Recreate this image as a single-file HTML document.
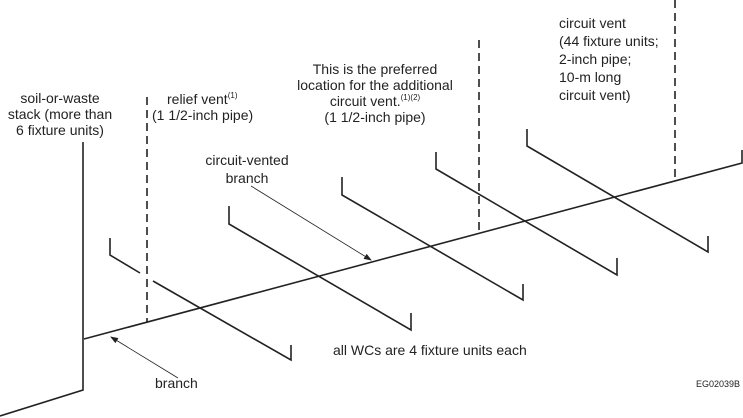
<!DOCTYPE html>
<html><head><meta charset="utf-8"><style>
body{margin:0;background:#fff}
svg{display:block}
text{font-family:"Liberation Sans",Arial,sans-serif;font-size:14px;fill:#222}
</style></head><body>
<svg width="743" height="418" viewBox="0 0 743 418">
<defs><marker id="a" markerWidth="8" markerHeight="6" refX="7" refY="3" orient="auto" markerUnits="userSpaceOnUse"><path d="M0,0 L8,3 L0,6 z" fill="#222"/></marker></defs>
<g stroke="#222" fill="none" stroke-width="1.6">
<polyline points="83,142 83,390 0,416"/>
<polyline points="84,339 742,163 742,150"/>
<polyline points="110,238 110,255 140,273"/>
<polyline points="153,281 291,360 291,345"/>
<polyline points="229,206 229,224 411,330 411,313"/>
<polyline points="342,177 342,195 523,300 523,284"/>
<polyline points="436,152 436,169 617,275 617,258"/>
<polyline points="527,129 527,146 708,252 708,236"/>
<g stroke-dasharray="8,5">
<line x1="147" y1="97" x2="147" y2="322"/>
<line x1="479" y1="40" x2="479" y2="233"/>
<line x1="675" y1="0" x2="675" y2="181"/>
</g>
</g>
<g stroke="#222" stroke-width="0.8">
<line x1="251" y1="186" x2="371" y2="260" marker-end="url(#a)"/>
<line x1="178" y1="378" x2="111" y2="337" marker-end="url(#a)"/>
</g>
<text x="60" y="103" text-anchor="middle">soil-or-waste</text>
<text x="60" y="119" text-anchor="middle">stack (more than</text>
<text x="60" y="135" text-anchor="middle">6 fixture units)</text>
<text x="167" y="104">relief vent<tspan font-size="8" dy="-6">(1)</tspan></text>
<text x="152" y="120">(1 1/2-inch pipe)</text>
<text x="375" y="74" text-anchor="middle">This is the preferred</text>
<text x="375" y="90" text-anchor="middle">location for the additional</text>
<text x="375" y="106" text-anchor="middle">circuit vent.<tspan font-size="8" dy="-6">(1)(2)</tspan></text>
<text x="375" y="122" text-anchor="middle">(1 1/2-inch pipe)</text>
<text x="559" y="28">circuit vent</text>
<text x="559" y="46">(44 fixture units;</text>
<text x="559" y="64">2-inch pipe;</text>
<text x="559" y="82">10-m long</text>
<text x="559" y="100">circuit vent)</text>
<text x="247" y="165" text-anchor="middle">circuit-vented</text>
<text x="247" y="183" text-anchor="middle">branch</text>
<text x="333" y="355">all WCs are 4 fixture units each</text>
<text x="155" y="388">branch</text>
<text x="696" y="387" style="font-size:9px">EG02039B</text>
</svg>
</body></html>
